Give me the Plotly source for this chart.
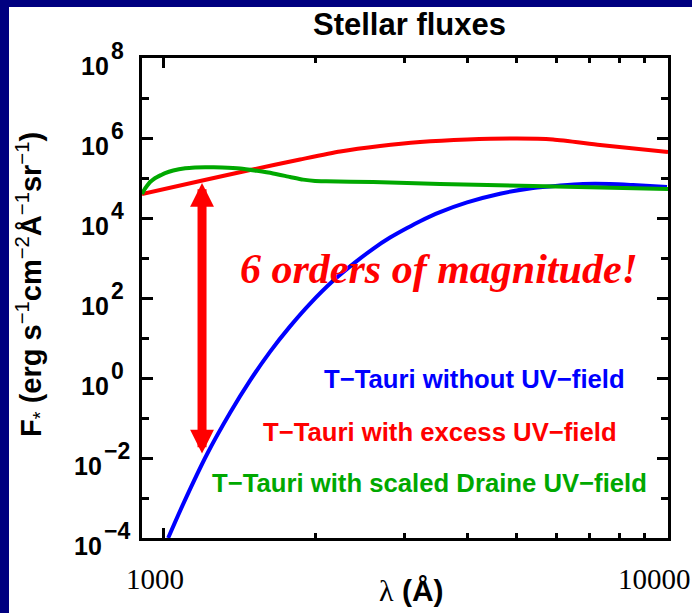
import math
import plotly.graph_objects as go

# ---------------- data ----------------
blue_wave = [1023, 1100, 1222, 1357, 1487, 1629, 1784, 1955, 2171, 2400, 2605, 2815, 3042,
             3228, 3536, 4000, 4648, 5404, 6112, 6785, 7677, 8525, 9954]
blue_flux = [1.0e-4, 7.9e-4, 1.26e-2, 0.135, 0.871, 4.57, 19.5, 72.4, 269, 776, 1.70e3, 3.24e3,
             5.62e3, 8.32e3, 1.40e4, 2.45e4, 4.05e4, 5.62e4, 6.49e4, 7.08e4, 7.08e4, 6.68e4, 5.96e4]

red_wave = [908, 1184, 1487, 1867, 2242, 2690, 3228, 4000, 5023, 5920, 7333, 10000]
red_flux = [3.98e4, 8.41e4, 1.585e5, 2.90e5, 4.60e5, 6.31e5, 7.94e5, 9.17e5, 9.72e5, 9.17e5,
            6.68e5, 4.47e5]

green_wave = [908, 917, 930, 942, 955, 973, 991, 1009, 1047, 1106, 1157, 1211, 1309, 1421,
              1535, 1651, 1784, 1893, 2000, 2102, 2605, 3536, 5404, 10000]
green_flux = [3.98e4, 5.01e4, 6.49e4, 7.94e4, 9.17e4, 1.06e5, 1.19e5, 1.33e5, 1.54e5, 1.75e5,
              1.83e5, 1.86e5, 1.83e5, 1.73e5, 1.51e5, 1.30e5, 1.06e5, 9.12e4, 8.41e4, 8.27e4,
              7.94e4, 7.08e4, 6.31e4, 5.31e4]

x_major = [1000, 10000]
x_major_labels = ["1000", "10000"]
x_minor = [2000, 3000, 4000, 5000, 6000, 7000, 8000, 9000]
y_major = [1e-4, 1e-2, 1e0, 1e2, 1e4, 1e6, 1e8]
y_exponents = ["−4", "−2", "0", "2", "4", "6", "8"]
y_minor = [1e-3, 1e-1, 1e1, 1e3, 1e5, 1e7]

arrow_wave = 1194
arrow_top_flux = 7.5e4

series_names = ["T−Tauri without UV−field", "T−Tauri with excess UV−field",
                "T−Tauri with scaled Draine UV−field"]

# ---------------- figure ----------------
NAVY = "#000080"
BLUE = "#0000ff"
RED = "#ff0000"
GREEN = "#00a800"

fig = go.Figure()
fig.add_trace(go.Scatter(x=blue_wave, y=blue_flux, mode="lines",
                         line=dict(color=BLUE, width=4, shape="spline", smoothing=0.8),
                         name=series_names[0]))
fig.add_trace(go.Scatter(x=red_wave, y=red_flux, mode="lines",
                         line=dict(color=RED, width=4, shape="spline", smoothing=0.6),
                         name=series_names[1]))
fig.add_trace(go.Scatter(x=green_wave, y=green_flux, mode="lines",
                         line=dict(color=GREEN, width=4, shape="spline", smoothing=0.5),
                         name=series_names[2]))

W, H = 692, 613
L, R, T, B = 142, 24, 58, 75
pw, ph = W - L - R, H - T - B


def px(xp):
    return (xp - L) / pw


def py(yp):
    return (H - B - yp) / ph


annotations = []

# y tick labels: "10" + exponent, centred at x ~ 100 px (as in the reference)
BASE_SIZE, EXP_SIZE = 25, 23
base_w = 2 * 0.556 * BASE_SIZE
for val, e in zip(y_major, y_exponents):
    exp_w = sum((0.584 if ch == "−" else 0.556) for ch in e) * EXP_SIZE
    total = base_w + 2 + exp_w
    left = 100 - total / 2
    annotations.append(dict(xref="paper", yref="y", x=px(left), y=math.log10(val), text="10",
                            showarrow=False, xanchor="left", yanchor="middle", yshift=-8,
                            font=dict(family="Liberation Sans", size=BASE_SIZE, color="black",
                                      weight="bold")))
    annotations.append(dict(xref="paper", yref="y", x=px(left + base_w + 2), y=math.log10(val),
                            text=e, showarrow=False, xanchor="left", yanchor="middle", yshift=7,
                            font=dict(family="Liberation Sans", size=EXP_SIZE, color="black",
                                      weight="bold")))

# x tick labels (serif)
for lab, cx in zip(x_major_labels, [155, 654]):
    annotations.append(dict(xref="paper", yref="paper", x=px(cx), y=py(579), text=lab,
                            showarrow=False, xanchor="center", yanchor="middle",
                            font=dict(family="Liberation Serif", size=29, color="black")))
# title
annotations.append(dict(xref="paper", yref="paper", x=px(409), y=py(25), text="Stellar fluxes",
                        showarrow=False, xanchor="center", yanchor="middle",
                        font=dict(family="Liberation Sans", size=31, color="black", weight="bold")))
# x axis title
annotations.append(dict(xref="paper", yref="paper", x=px(411), y=py(590),
                        text="<span style='font-family:Liberation Serif;font-weight:normal'>λ</span> <b>(Å)</b>",
                        showarrow=False, xanchor="center", yanchor="middle",
                        font=dict(family="Liberation Sans", size=30, color="black")))
# y axis title
annotations.append(dict(xref="paper", yref="paper", x=px(31), y=py(285),
                        text="<b>F</b><sub>*</sub><b> (erg s</b><sup>−1</sup><b>cm</b><sup>−2</sup>"
                             "<b>Å</b><sup>−1</sup><b>sr</b><sup>−1</sup><b>)</b>",
                        textangle=-90, showarrow=False, xanchor="center", yanchor="middle",
                        font=dict(family="Liberation Sans", size=29, color="black")))
# big statement
annotations.append(dict(xref="paper", yref="paper", x=px(438.5), y=py(269),
                        text="<b><i>6 orders of magnitude!</i></b>",
                        showarrow=False, xanchor="center", yanchor="middle",
                        font=dict(family="Liberation Serif", size=42, color=RED)))
# labels
for name, col, cx, cy in zip(series_names, [BLUE, RED, GREEN], [474.5, 440, 429], [379, 432, 482.5]):
    annotations.append(dict(xref="paper", yref="paper", x=px(cx), y=py(cy), text=name,
                            showarrow=False, xanchor="center", yanchor="middle",
                            font=dict(family="Liberation Sans", size=25.7, color=col, weight="bold")))
# double arrow
annotations.append(dict(xref="x", yref="y", x=math.log10(arrow_wave), y=math.log10(arrow_top_flux),
                        ax=0, ay=272, axref="pixel", ayref="pixel", text="",
                        showarrow=True, arrowhead=2, startarrowhead=2, arrowside="end+start",
                        arrowwidth=9, arrowsize=0.53, startarrowsize=0.53, arrowcolor=RED))

axis_common = dict(showline=True, linewidth=3, linecolor="black", mirror="ticks",
                   ticks="inside", tickwidth=3, tickcolor="black", showgrid=False, zeroline=False)

fig.update_layout(
    width=W, height=H,
    margin=dict(l=L, r=R, t=T, b=B, pad=0),
    paper_bgcolor=NAVY, plot_bgcolor="white",
    showlegend=False,
    xaxis=dict(type="log", range=[math.log10(908), 4.0], tickvals=x_major, ticklen=10,
               showticklabels=False,
               minor=dict(tickvals=x_minor, ticks="inside", ticklen=5, tickwidth=3,
                          tickcolor="black", showgrid=False),
               **axis_common),
    yaxis=dict(type="log", range=[-4, 8], tickvals=y_major, ticklen=11,
               showticklabels=False,
               minor=dict(tickvals=y_minor, ticks="inside", ticklen=7, tickwidth=3,
                          tickcolor="black", showgrid=False),
               **axis_common),
    shapes=[dict(type="rect", xref="paper", yref="paper",
                 x0=px(9), x1=px(W + 5), y0=py(H + 5), y1=py(7),
                 fillcolor="white", line=dict(width=0), layer="below")],
    annotations=annotations,
)

fig.write_html("out.html")
